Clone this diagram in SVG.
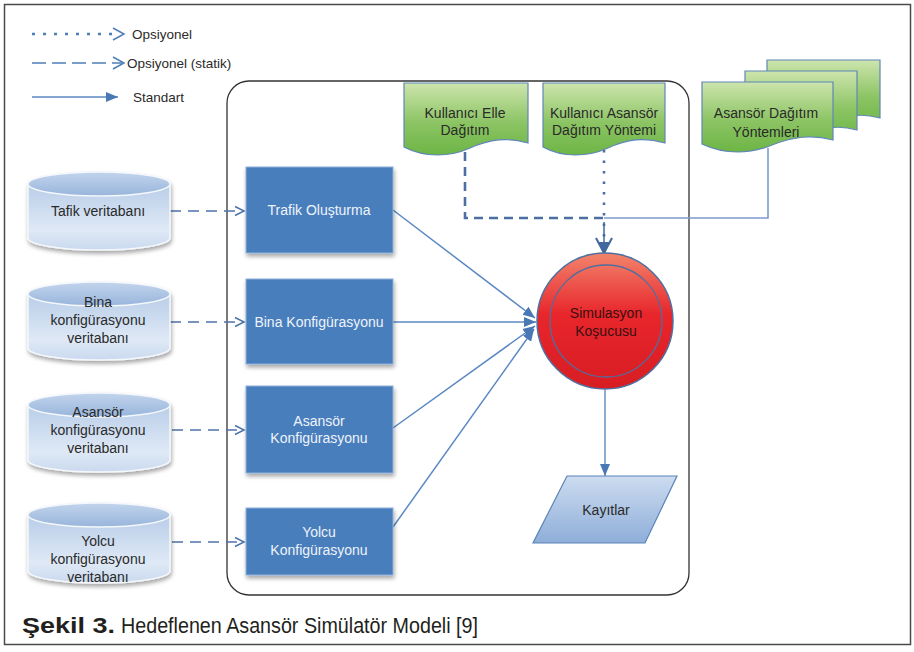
<svg xmlns="http://www.w3.org/2000/svg" width="914" height="652" viewBox="0 0 914 652">
  <style>
    .lbl { font-family: "Liberation Sans", Arial, sans-serif; font-size: 14px; fill: #2a2a2a; text-anchor: middle; }
    .lblw { font-family: "Liberation Sans", Arial, sans-serif; font-size: 14px; fill: #eef3fa; text-anchor: middle; }
    .leg { font-family: "Liberation Sans", Arial, sans-serif; font-size: 13.5px; fill: #2a2a2a; }
    .cyl { fill: url(#cylBody); stroke: #f4f7fb; stroke-width: 1.5; filter: url(#shadow); }
    .cyltop { fill: url(#cylTop); stroke: #f4f7fb; stroke-width: 1.5; }
    .box { fill: #4a7ebd; stroke: #8db0da; stroke-width: 1; filter: url(#shadow); }
    .doc { fill: url(#green); stroke: #5f86b8; stroke-width: 1.2; }
    .dash { fill: none; stroke: #4d73a8; stroke-width: 1.6; stroke-dasharray: 11 7; }
    .solid { fill: none; stroke: #5b88c2; stroke-width: 1.5; }
  </style>
  <defs>
    <linearGradient id="cylBody" x1="0" y1="0" x2="0" y2="1">
      <stop offset="0" stop-color="#aec6e4"/>
      <stop offset="0.75" stop-color="#dfe9f6"/>
      <stop offset="1" stop-color="#c9d9ee"/>
    </linearGradient>
    <linearGradient id="cylTop" x1="0" y1="0" x2="0" y2="1">
      <stop offset="0" stop-color="#c2d4ec"/>
      <stop offset="1" stop-color="#98b5dc"/>
    </linearGradient>
    <linearGradient id="green" x1="0" y1="0" x2="0" y2="1">
      <stop offset="0" stop-color="#cde5ad"/>
      <stop offset="0.55" stop-color="#8cc464"/>
      <stop offset="1" stop-color="#6db545"/>
    </linearGradient>
    <linearGradient id="red" x1="0" y1="0" x2="0" y2="1">
      <stop offset="0" stop-color="#f2846c"/>
      <stop offset="0.45" stop-color="#e8262c"/>
      <stop offset="1" stop-color="#d71d23"/>
    </linearGradient>
    <linearGradient id="para" x1="0" y1="0" x2="0" y2="1">
      <stop offset="0" stop-color="#cddcf0"/>
      <stop offset="1" stop-color="#8eaed9"/>
    </linearGradient>
    <filter id="shadow" x="-10%" y="-10%" width="130%" height="140%">
      <feGaussianBlur in="SourceAlpha" stdDeviation="2"/>
      <feOffset dx="1" dy="3" result="b"/>
      <feComponentTransfer><feFuncA type="linear" slope="0.35"/></feComponentTransfer>
      <feMerge><feMergeNode/><feMergeNode in="SourceGraphic"/></feMerge>
    </filter>
    <marker id="open" markerWidth="12" markerHeight="12" refX="10" refY="6" orient="auto" markerUnits="userSpaceOnUse">
      <path d="M1,1.5 L10,6 L1,10.5" fill="none" stroke="#4d73a8" stroke-width="1.5"/>
    </marker>
    <marker id="fill" markerWidth="14" markerHeight="12" refX="12" refY="6" orient="auto" markerUnits="userSpaceOnUse">
      <path d="M0,1 L12,6 L0,11 Z" fill="#4a78b5"/>
    </marker>
  </defs>

  <rect x="0" y="0" width="914" height="652" fill="#ffffff"/>
  <rect x="4.5" y="4.5" width="906" height="640" fill="none" stroke="#4a4a4a" stroke-width="1.5"/>

  <!-- legend -->
  <g id="legend">
    <line x1="32" y1="34" x2="112" y2="34" stroke="#4f7db8" stroke-width="2.5" stroke-dasharray="3 8"/>
    <path d="M113,28 L124,34 L113,40" fill="none" stroke="#4f7db8" stroke-width="1.5"/>
    <text class="leg" x="132" y="39">Opsiyonel</text>
    <line x1="32" y1="63" x2="122" y2="63" stroke="#4f7db8" stroke-width="1.5" stroke-dasharray="14 6"/>
    <path d="M113,57 L124,63 L113,69" fill="none" stroke="#4f7db8" stroke-width="1.5"/>
    <text class="leg" x="127" y="68">Opsiyonel (statik)</text>
    <line x1="32" y1="97" x2="118" y2="97" class="solid" marker-end="url(#fill)"/>
    <text class="leg" x="133" y="102">Standart</text>
  </g>

  <!-- system boundary -->
  <rect x="227" y="81" width="462" height="514" rx="22" ry="22" fill="none" stroke="#333333" stroke-width="1.3"/>

  <!-- connectors -->
  <g id="connectors">
    <line class="dash" x1="170" y1="211" x2="244" y2="211" marker-end="url(#open)"/>
    <line class="dash" x1="170" y1="322" x2="244" y2="322" marker-end="url(#open)"/>
    <line class="dash" x1="172" y1="430" x2="244" y2="430" marker-end="url(#open)"/>
    <line class="dash" x1="172" y1="542" x2="244" y2="542" marker-end="url(#open)"/>

    <line class="solid" x1="393" y1="210" x2="535" y2="318" marker-end="url(#fill)"/>
    <line class="solid" x1="393" y1="322" x2="536" y2="322" marker-end="url(#fill)"/>
    <line class="solid" x1="393" y1="428" x2="535" y2="326" marker-end="url(#fill)"/>
    <line class="solid" x1="393" y1="527" x2="534" y2="329" marker-end="url(#fill)"/>

    <!-- sources feeding the runner from above -->
    <path d="M465,152 V218 H604" fill="none" stroke="#4c6fa3" stroke-width="2.6" stroke-dasharray="9 6"/>
    <path d="M768,148 V218 H604" fill="none" stroke="#7c9ccb" stroke-width="1.6"/>
    <line x1="604" y1="150" x2="604" y2="246" stroke="#4c6fa3" stroke-width="2.6" stroke-dasharray="2.5 8"/>
    <path d="M596,238 L604,253 L612,238" fill="none" stroke="#41679e" stroke-width="2"/>
    <path d="M598,242 L604,253 L610,242 Z" fill="#41679e"/>
    <line x1="604" y1="222" x2="604" y2="250" stroke="#41679e" stroke-width="1.5"/>

    <line x1="605" y1="390" x2="605" y2="476" stroke="#6a90c4" stroke-width="1.5" marker-end="url(#fill)"/>
  </g>

  <!-- databases -->
  <g id="db-trafik">
    <path class="cyl" d="M28,184 A71,12 0 0 1 170,184 V238 A71,12 0 0 1 28,238 Z"/>
    <ellipse class="cyltop" cx="99" cy="184" rx="71" ry="12"/>
    <text class="lbl" x="98" y="216">Tafik veritabanı</text>
  </g>
  <g id="db-bina">
    <path class="cyl" d="M28,294 A71,12 0 0 1 170,294 V348 A71,12 0 0 1 28,348 Z"/>
    <ellipse class="cyltop" cx="99" cy="294" rx="71" ry="12"/>
    <text class="lbl" x="98" y="307">Bina</text>
    <text class="lbl" x="98" y="325">konfigürasyonu</text>
    <text class="lbl" x="98" y="343">veritabanı</text>
  </g>
  <g id="db-asansor">
    <path class="cyl" d="M28,405 A71,12 0 0 1 170,405 V460 A71,12 0 0 1 28,460 Z"/>
    <ellipse class="cyltop" cx="99" cy="405" rx="71" ry="12"/>
    <text class="lbl" x="98" y="417">Asansör</text>
    <text class="lbl" x="98" y="435">konfigürasyonu</text>
    <text class="lbl" x="98" y="453">veritabanı</text>
  </g>
  <g id="db-yolcu">
    <path class="cyl" d="M28,515 A71,12 0 0 1 170,515 V571 A71,12 0 0 1 28,571 Z"/>
    <ellipse class="cyltop" cx="99" cy="515" rx="71" ry="12"/>
    <text class="lbl" x="98" y="546">Yolcu</text>
    <text class="lbl" x="98" y="564">konfigürasyonu</text>
    <text class="lbl" x="98" y="582">veritabanı</text>
  </g>

  <!-- processes -->
  <g id="trafik-olusturma">
    <rect class="box" x="246" y="167" width="147" height="86"/>
    <text class="lblw" x="319" y="215">Trafik Oluşturma</text>
  </g>
  <g id="bina-konfigurasyonu">
    <rect class="box" x="246" y="279" width="147" height="85"/>
    <text class="lblw" x="319" y="327">Bina Konfigürasyonu</text>
  </g>
  <g id="asansor-konfigurasyonu">
    <rect class="box" x="246" y="386" width="147" height="87"/>
    <text class="lblw" x="319" y="426">Asansör</text>
    <text class="lblw" x="319" y="443">Konfigürasyonu</text>
  </g>
  <g id="yolcu-konfigurasyonu">
    <rect class="box" x="246" y="508" width="147" height="67"/>
    <text class="lblw" x="319" y="537">Yolcu</text>
    <text class="lblw" x="319" y="555">Konfigürasyonu</text>
  </g>

  <!-- documents -->
  <g id="kullanici-elle">
    <path class="doc" d="M404,83 H528 V143 C507,137 490,139 470,148 C450,157 425,158 404,147 Z"/>
    <text class="lbl" x="465" y="118">Kullanıcı Elle</text>
    <text class="lbl" x="465" y="135">Dağıtım</text>
  </g>
  <g id="kullanici-asansor">
    <path class="doc" d="M543,83 H665 V143 C644,137 627,139 608,148 C588,157 563,158 543,147 Z"/>
    <text class="lbl" x="604" y="118">Kullanıcı Asansör</text>
    <text class="lbl" x="604" y="135">Dağıtım Yöntemi</text>
  </g>
  <g id="asansor-dagitim">
    <path class="doc" d="M767,60 H880 V118 C862,113 848,115 832,122 C815,129 790,130 767,122 Z"/>
    <path class="doc" d="M745,71 H857 V130 C839,125 825,127 809,134 C792,141 768,142 745,134 Z"/>
    <path class="doc" d="M702,82 H833 V140 C811,134 793,137 772,145 C751,154 725,155 702,144 Z"/>
    <text class="lbl" x="766" y="118">Asansör Dağıtım</text>
    <text class="lbl" x="766" y="137">Yöntemleri</text>
  </g>

  <!-- simulation runner -->
  <g id="simulasyon-kosucusu">
    <circle cx="605" cy="321" r="68" fill="url(#red)" stroke="#4e6fa0" stroke-width="1.5"/>
    <circle cx="606" cy="321" r="56" fill="none" stroke="#4e6fa0" stroke-width="1.3"/>
    <text class="lbl" x="606" y="318" style="fill:#3a1010">Simulasyon</text>
    <text class="lbl" x="606" y="336" style="fill:#3a1010">Koşucusu</text>
  </g>

  <!-- logs -->
  <g id="kayitlar">
    <polygon points="567,476 677,476 645,543 533,543" fill="url(#para)" stroke="#5a84b8" stroke-width="1.2"/>
    <text class="lbl" x="606" y="515">Kayıtlar</text>
  </g>

  <!-- caption -->
  <g id="caption">
    <text x="22" y="633" font-family="'Liberation Sans', Arial, sans-serif" font-size="22" font-weight="bold" fill="#231f20" textLength="93" lengthAdjust="spacingAndGlyphs">Şekil 3.</text>
    <text x="121" y="633" font-family="'Liberation Sans', Arial, sans-serif" font-size="22" fill="#231f20" textLength="357" lengthAdjust="spacingAndGlyphs">Hedeflenen Asansör Simülatör Modeli [9]</text>
  </g>
</svg>
